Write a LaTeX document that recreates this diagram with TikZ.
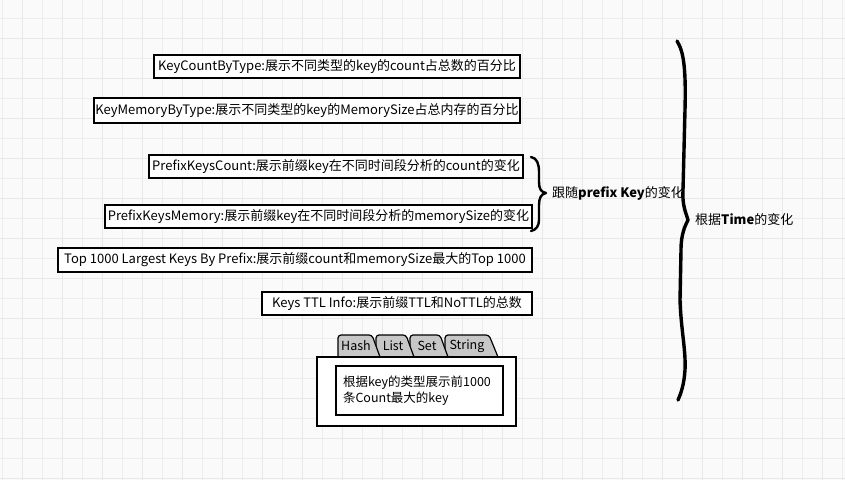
\documentclass[tikz,border=0pt]{standalone}
\usepackage{fontspec}
\setmainfont{Noto Sans CJK SC}
\begin{document}
\begin{tikzpicture}[x=1pt,y=-1pt,
  gridthin/.style={draw=black!7, line width=0.6pt},
  gridthick/.style={draw=black!9, line width=1pt},
  infobox/.style={draw=black, line width=1.6pt, fill=white, inner sep=0pt,
    font=\fontsize{13}{15}\selectfont},
  tabshape/.style={draw=black, line width=1.2pt, fill=black!22, rounded corners=3pt},
  tablabel/.style={inner sep=0pt, font=\fontsize{12.5}{14}\selectfont},
  bracestroke/.style={draw=black, line cap=round, line join=round},
  bracelabel/.style={anchor=west, inner sep=0pt, font=\fontsize{13}{15}\selectfont}]
\useasboundingbox (0,0) rectangle (845,480);
\fill[black!2] (0,0) rectangle (845,480);
% grid
\foreach \x in {2,42,...,842} \draw[gridthin] (\x,0) -- (\x,480);
\foreach \x in {22,62,...,842} \draw[gridthick] (\x,0) -- (\x,480);
\foreach \y in {18,58,...,478} \draw[gridthin] (0,\y) -- (845,\y);
\foreach \y in {38,78,...,478} \draw[gridthick] (0,\y) -- (845,\y);

% boxes
\node[infobox, minimum width=366pt, minimum height=23pt] (b1) at (337,66.5)
  {KeyCountByType:展示不同类型的key的count占总数的百分比};
\node[infobox, minimum width=426pt, minimum height=25pt] (b2) at (307,110.5)
  {KeyMemoryByType:展示不同类型的key的MemorySize占总内存的百分比};
\node[infobox, minimum width=374pt, minimum height=23pt] (b3) at (336,166.5)
  {PrefixKeysCount:展示前缀key在不同时间段分析的count的变化};
\node[infobox, minimum width=427pt, minimum height=23pt] (b4) at (318.5,216.5)
  {PrefixKeysMemory:展示前缀key在不同时间段分析的memorySize的变化};
\node[infobox, minimum width=474pt, minimum height=24pt] (b5) at (295,260)
  {Top 1000 Largest Keys By Prefix:展示前缀count和memorySize最大的Top 1000};
\node[infobox, minimum width=270pt, minimum height=23pt] (b6) at (397,303.5)
  {Keys TTL Info:展示前缀TTL和NoTTL的总数};

% tab widget
\draw[tabshape] (445,357) -- (445,335) -- (489,335) -- (498,357);
\draw[tabshape] (410,357) -- (410,335) -- (440,335) -- (448,357);
\draw[tabshape] (376,357) -- (376,335) -- (406,335) -- (414,357);
\draw[tabshape] (338,357) -- (338,335) -- (372,335) -- (380,357);
\node[tablabel] (tHash) at (356,346) {Hash};
\node[tablabel] (tList) at (393,346) {List};
\node[tablabel] (tSet) at (427,346) {Set};
\node[tablabel] (tString) at (467,346) {String};
\draw[draw=black, line width=1.6pt, fill=white] (317,357) rectangle (516,426);
\node[infobox, minimum width=167pt, minimum height=49pt, text width=153pt,
  inner sep=7pt, align=left, font=\fontsize{12.5}{15.5}\selectfont] (inner) at (419.5,390.5)
  {根据key的类型展示前1000\\条Count最大的key};

% small brace
\draw[bracestroke, line width=2.4pt]
  (531,157) .. controls (537,158) and (539,164) .. (539,172)
  -- (539,182) .. controls (539,189) and (541,192) .. (546,193)
  .. controls (541,194) and (539,198) .. (539,205)
  -- (539,220) .. controls (539,226) and (536,230) .. (531,231);
\node[bracelabel] (lprefix) at (552,193) {跟随\textbf{prefix Key}的变化};

% big brace
\draw[bracestroke, line width=3.4pt]
  (677,41) .. controls (684,52) and (686,70) .. (685,110)
  -- (683,190) .. controls (682,205) and (686,213) .. (688,220)
  .. controls (685,226) and (681,234) .. (681,250)
  -- (680,300) .. controls (681,330) and (686,350) .. (685,370)
  .. controls (684,385) and (681,393) .. (678,400);
\node[bracelabel] (ltime) at (695,220) {根据\textbf{Time}的变化};
\end{tikzpicture}
\end{document}
